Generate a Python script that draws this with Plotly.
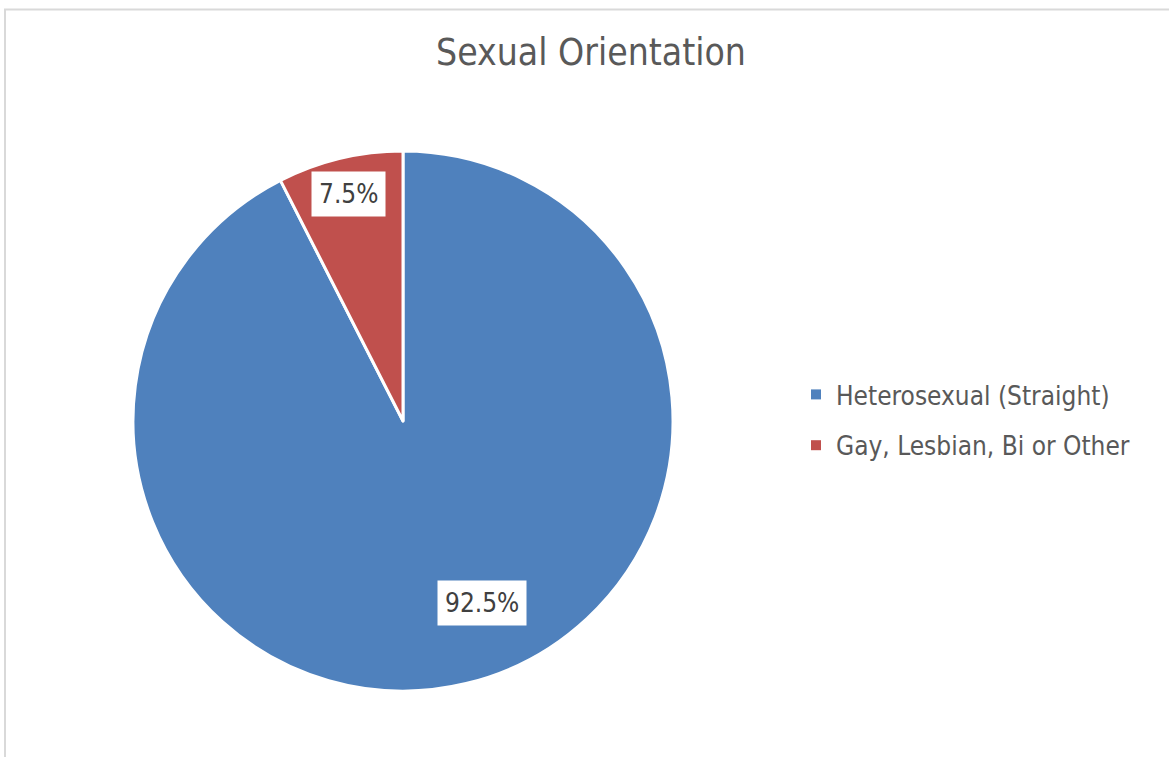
import math
import plotly.graph_objects as go

# Data
labels = ["Heterosexual (Straight)", "Gay, Lesbian, Bi or Other"]
values = [92.5, 7.5]
label_text = ["92.5%", "7.5%"]

colors = ["#4F81BD", "#C0504D"]
FONT = "DejaVu Sans Condensed, DejaVu Sans, sans-serif"

W, H = 1169, 757
# pie geometry (pixels)
cx_px, cy_px, r_px = 403, 421, 270
dom_x = [(cx_px - r_px) / W, (cx_px + r_px) / W]
dom_y = [1 - (cy_px + r_px) / H, 1 - (cy_px - r_px) / H]

fig = go.Figure()
fig.add_trace(go.Pie(
    labels=labels,
    values=values,
    sort=False,
    direction="clockwise",
    rotation=0,
    marker=dict(colors=colors, line=dict(color="white", width=3)),
    textinfo="none",
    hoverinfo="label+percent",
    domain=dict(x=dom_x, y=dom_y),
    showlegend=False,
))

# legend entries (one group each, so spacing can be set)
for lab, col in zip(labels, colors):
    fig.add_trace(go.Scatter(
        x=[None], y=[None], mode="markers", name=lab, legendgroup=lab,
        marker=dict(symbol="square", size=10, color=col),
        hoverinfo="skip",
    ))

# data labels placed from slice mid-angles
radial = [0.737, 0.863]
angle_adj = [-10, 0]
total = sum(values)
start = 0.0
annotations = []
for i, v in enumerate(values):
    mid = start + v / total * 360 / 2 + angle_adj[i]
    start += v / total * 360
    th = math.radians(mid)
    x_px = cx_px + r_px * radial[i] * math.sin(th)
    y_px = cy_px - r_px * radial[i] * math.cos(th)
    annotations.append(dict(
        x=x_px / W, y=1 - y_px / H, xref="paper", yref="paper",
        text=label_text[i], showarrow=False,
        font=dict(family=FONT, size=26, color="#404040"),
        bgcolor="white", borderpad=7,
        xanchor="center", yanchor="middle",
    ))

fig.update_layout(
    width=W, height=H,
    margin=dict(l=0, r=0, t=0, b=0),
    paper_bgcolor="white",
    plot_bgcolor="white",
    xaxis=dict(visible=False),
    yaxis=dict(visible=False),
    title=dict(text="Sexual Orientation", x=591 / W, xanchor="center",
               y=1 - 52 / H, yanchor="middle",
               font=dict(family=FONT, size=37, color="#595959")),
    showlegend=True,
    legend=dict(x=796 / W, y=1 - 420 / H, xanchor="left", yanchor="middle",
                font=dict(family=FONT, size=26, color="#595959"),
                bgcolor="rgba(0,0,0,0)", tracegroupgap=14,
                itemclick=False, itemdoubleclick=False),
    annotations=annotations,
    shapes=[dict(type="rect", xref="paper", yref="paper",
                 x0=5 / W, x1=1.02, y0=-0.02, y1=1 - 9.5 / H,
                 line=dict(color="#D9D9D9", width=2), layer="below")],
)

fig.write_html("out.html", config={"displayModeBar": False},
               post_script="document.body.style.margin='0';")
